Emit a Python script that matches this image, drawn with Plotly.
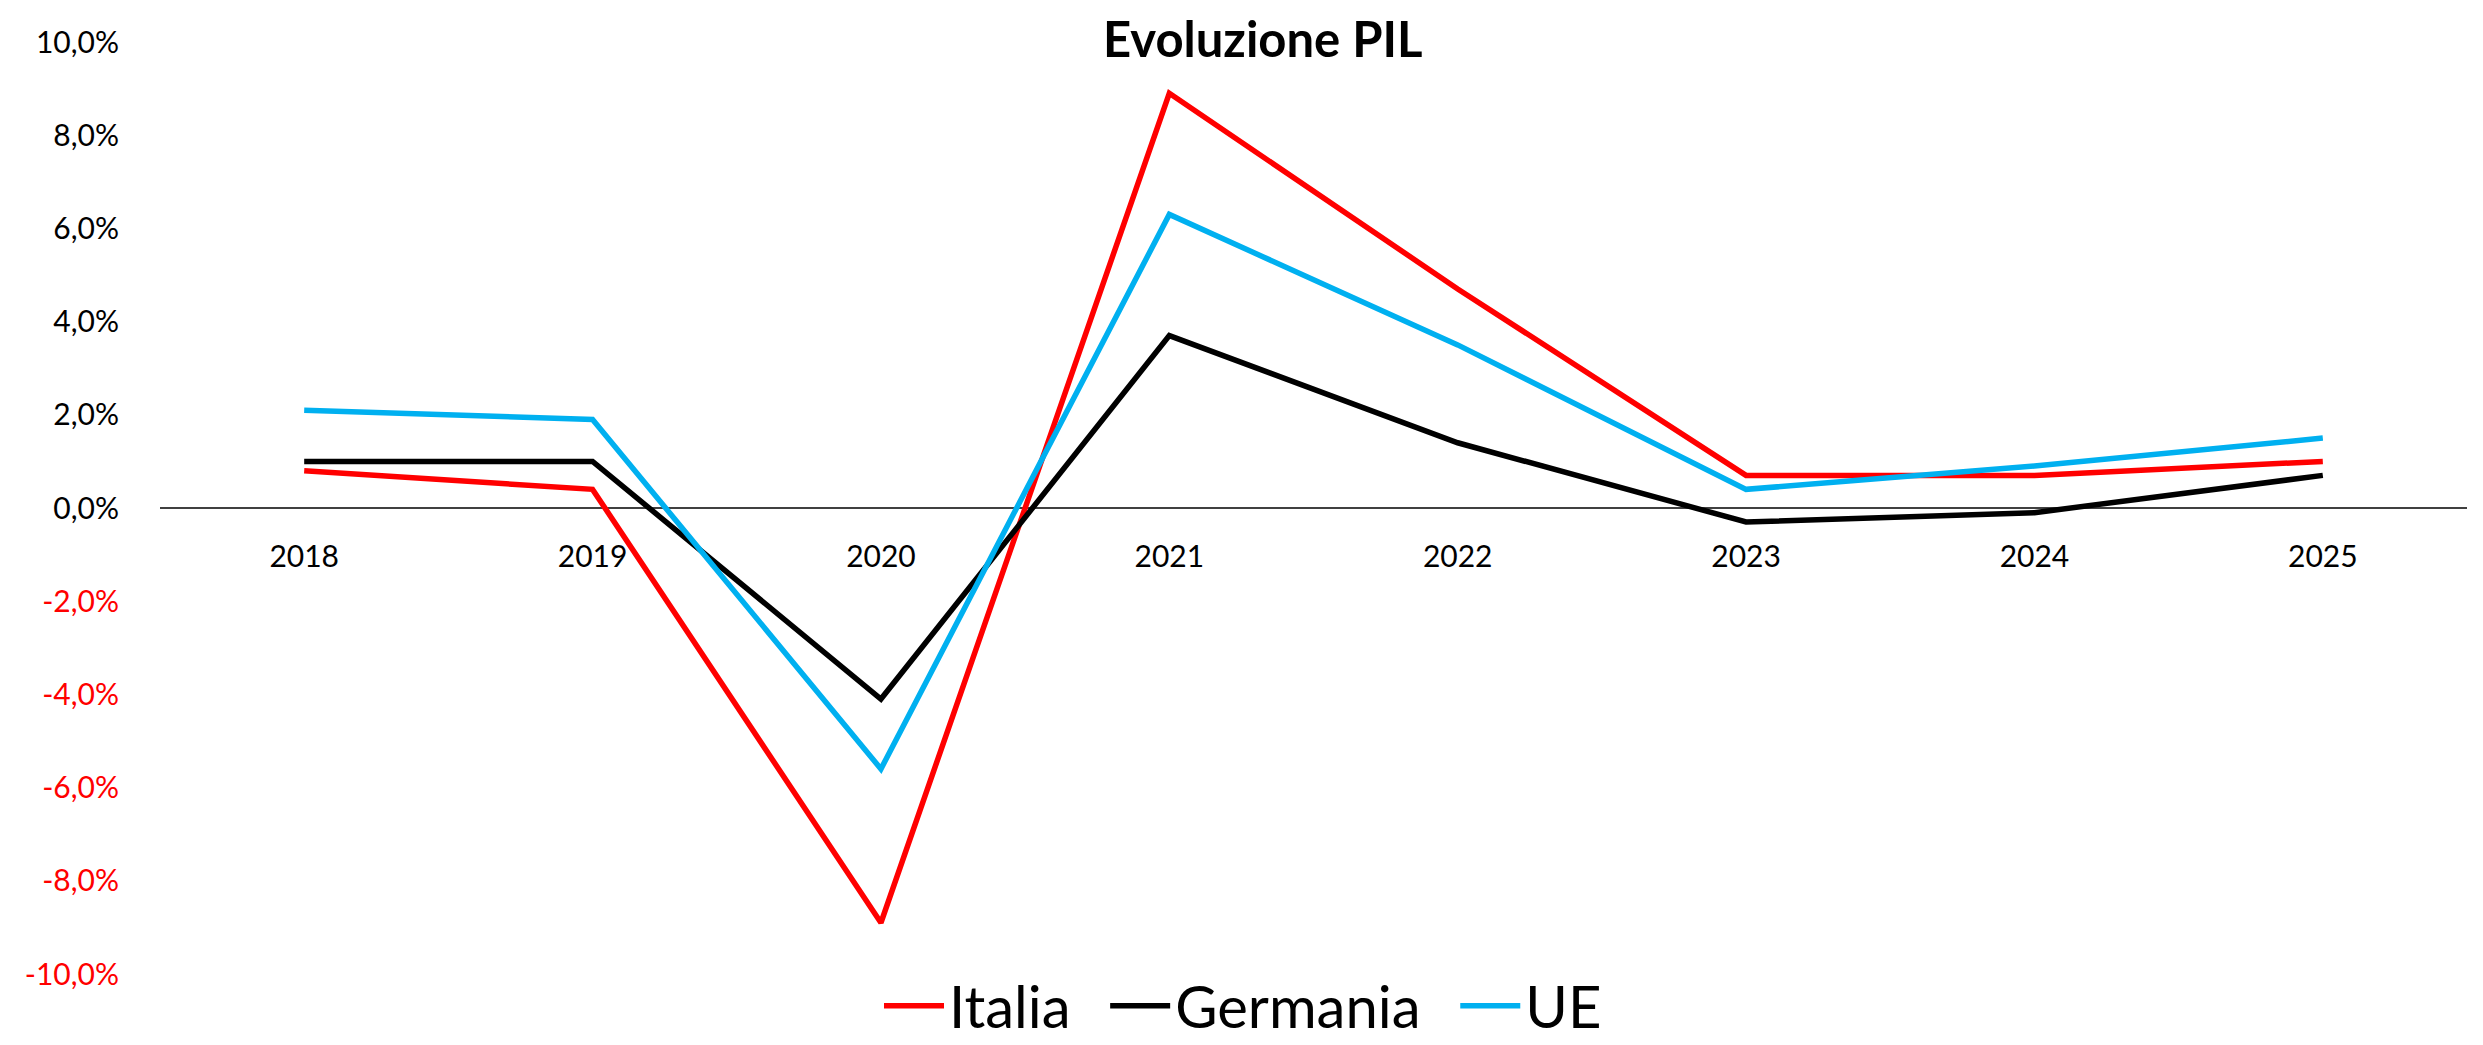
import plotly.graph_objects as go

years = ["2018", "2019", "2020", "2021", "2022", "2023", "2024", "2025"]
italia = [0.8, 0.4, -8.9, 8.9, 4.7, 0.7, 0.7, 1.0]
germania = [1.0, 1.0, -4.1, 3.7, 1.4, -0.3, -0.1, 0.7]
ue = [2.1, 1.9, -5.6, 6.3, 3.5, 0.4, 0.9, 1.5]

y_tick_vals = [-10, -8, -6, -4, -2, 0, 2, 4, 6, 8, 10]
y_tick_labels = ["-10,0%", "-8,0%", "-6,0%", "-4,0%", "-2,0%", "0,0%",
                 "2,0%", "4,0%", "6,0%", "8,0%", "10,0%"]

title_text = "Evoluzione PIL"

FONT = "Lato"
PAD = "\u00a0\u00a0"
W, H = 2483, 1045
ML, MR, MT, MB = 152, 24, 34, 79

def styled(v, lab):
    if v < 0:
        return f"<span style='color:#FF0000'>{lab}</span>"
    return lab

fig = go.Figure()
series = [("Italia", italia, "#FF0000"),
          ("Germania", germania, "#000000"),
          ("UE", ue, "#00B0F0")]
for i, (name, vals, col) in enumerate(series):
    label = name + (PAD if i < len(series) - 1 else "")
    fig.add_trace(go.Scatter(x=years, y=vals, name=label, mode="lines",
                             line=dict(color=col, width=5.5)))

plot_w = W - ML - MR
plot_h = H - MT - MB
fig.add_annotation(text=f"<b>{title_text}</b>", xref="paper", yref="paper",
                   x=(1255 - ML) / plot_w, y=1 + (MT - 30) / plot_h,
                   xanchor="center", yanchor="middle", showarrow=False,
                   font=dict(family=FONT, size=49, color="#000000"))

fig.update_layout(
    width=W, height=H,
    paper_bgcolor="white", plot_bgcolor="white",
    margin=dict(l=ML, r=MR, t=MT, b=MB, autoexpand=False),
    font=dict(family=FONT, color="#000000", size=30),
    showlegend=True,
    legend=dict(orientation="h", xref="container", yref="container",
                x=1235 / W, xanchor="center", y=1 - 998 / H, yanchor="middle",
                itemwidth=60,
                font=dict(family=FONT, size=58, color="#000000"),
                bgcolor="rgba(0,0,0,0)"),
    xaxis=dict(type="category", categoryorder="array", categoryarray=years,
               range=[-0.5, 7.5], anchor="free", position=0.5,
               showline=False, showgrid=False, zeroline=False, ticks="",
               ticklabelstandoff=28,
               tickfont=dict(family=FONT, size=30, color="#000000")),
    yaxis=dict(range=[-10, 10], showgrid=False, showline=False,
               zeroline=True, zerolinecolor="#404040", zerolinewidth=2,
               tickvals=y_tick_vals,
               ticktext=[styled(v, l) for v, l in zip(y_tick_vals, y_tick_labels)],
               ticks="", ticklabelstandoff=40,
               tickfont=dict(family=FONT, size=30, color="#000000")),
)

fig.write_html("out.html")
